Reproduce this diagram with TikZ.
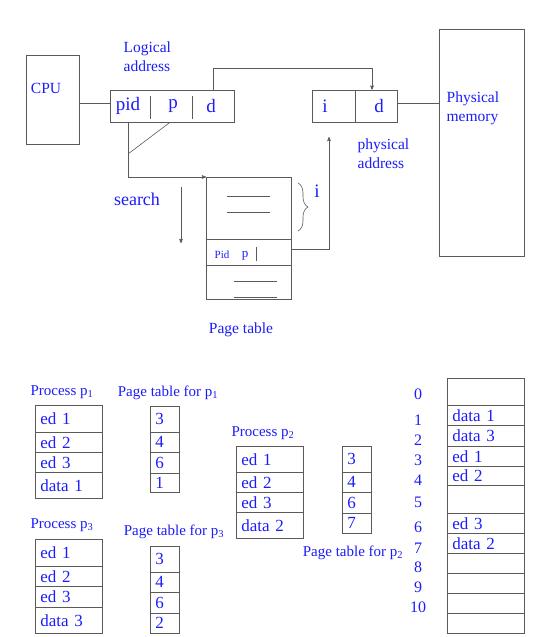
\documentclass[tikz,border=0pt]{standalone}
\usepackage{fontspec}
\setmainfont{Liberation Serif}
\usetikzlibrary{arrows,decorations.pathreplacing}
\definecolor{inkblue}{RGB}{28,28,250}
\definecolor{boxgray}{RGB}{90,90,90}
\newcommand{\fsize}[2]{\fontsize{#1}{#2}\selectfont}

\begin{document}
\begin{tikzpicture}[x=1pt,y=-1pt,>=stealth',semithick]
  \tikzstyle{every node}=[text=inkblue]
  \tikzstyle{box}=[draw=boxgray,rectangle,inner sep=0pt]
  \tikzstyle{cell}=[draw=boxgray,rectangle,anchor=north west,inner xsep=5pt,
                    inner ysep=0pt,align=left,font=\fsize{17}{19}]
  \tikzstyle{line}=[draw=boxgray]
  \tikzstyle{txt}=[font=\fsize{15.5}{19},align=left]
  \tikzstyle{title}=[font=\fsize{15}{17}]
  \tikzstyle{field}=[font=\fsize{19}{22}]

  \useasboundingbox (0,0) rectangle (536,637);

  % address translation
  \node[box,minimum width=53,minimum height=89] (cpu) at (52.5,99.5) {};
  \node[txt] (cpulabel) at (46,88) {CPU};
  \node[txt,anchor=west] (lalabel) at (120,57) {Logical\\address};
  \node[box,minimum width=124,minimum height=32] (la) at (172,106) {};
  \node[field] (pid) at (128,106) {pid};
  \node[field] (pp) at (173,106) {p};
  \node[field] (dd) at (211,106) {d};
  \draw[line] (150,96) -- (150,119) (192,96) -- (192,119);

  \node[box,minimum width=85,minimum height=32] (pa) at (354.5,106) {};
  \node[field] (pi) at (325,106) {i};
  \node[field] (pd) at (379,106) {d};
  \draw[line] (355,90) -- (355,122);
  \node[txt,anchor=west] (palabel) at (354,153.5) {physical\\address};

  \node[box,minimum width=85,minimum height=227] (pm) at (481.5,142.5) {};
  \node[txt,anchor=west] (pmlabel) at (443,108.5) {Physical\\memory};

  \draw[line] ([yshift=3pt]la.west) -- ([yshift=3pt]la.west -| cpu.east);
  \draw[line] ([yshift=3pt]pa.east) -- ([yshift=3pt]pa.east -| pm.west);
  \draw[line,->] ([xshift=2pt]dd.center |- la.north) -- ++(0,-21) -| ([xshift=17.5pt]pa.north);

  % page table
  \node[box,minimum width=85,minimum height=62,anchor=north west] (ptop) at (206,177) {};
  \node[box,minimum width=85,minimum height=26,anchor=north west] (prow) at (206,239) {};
  \node[box,minimum width=85,minimum height=34,anchor=north west] (pbot) at (206,265) {};
  \draw[line] (227,196) -- (270,196) (227,212) -- (270,212);
  \draw[line] (234,281) -- (277,281) (234,297) -- (277,297);
  \node[font=\fsize{11}{13}] (pidcell) at (222,255) {Pid};
  \node[font=\fsize{13}{15}] (pcell) at (245,256) {p};
  \draw[line] (256,247) -- (256,261);
  \draw[line,decorate,decoration={brace,amplitude=10pt}] (298,183) -- (298,231);
  \node[field] (ilabel) at (317,191) {i};
  \node[txt] (ptlabel) at (241,330) {Page table};

  \coordinate (fork) at (128,154);
  \draw[line] ([xshift=-3pt]pp.center |- la.south) -- (fork);
  \draw[line,->] (pid |- la.south) |- (ptop.north west);
  \node[font=\fsize{18}{21}] (searchlabel) at (137,199) {search};
  \coordinate (s1) at (181,187);
  \coordinate (s2) at (181,243);
  \draw[line,->] (s1) -- (s2);
  \coordinate (pain) at (329,137);
  \draw[line,->] ([yshift=3pt]prow.east) -| (pain);

  % processes and their page tables
  \node[title] (p1title) at (62,392) {Process p\textsubscript{1}};
  \node[title] (pt1title) at (168,393) {Page table for p\textsubscript{1}};
  \node[title] (p2title) at (263,433) {Process p\textsubscript{2}};
  \node[title] (pt2title) at (353,553) {Page table for p\textsubscript{2}};
  \node[title] (p3title) at (62,525) {Process p\textsubscript{3}};
  \node[title] (pt3title) at (174,532) {Page table for p\textsubscript{3}};

  \foreach \t/\h/\s [count=\k] in {405/27/ed 1,432/20/ed 2,452/20/ed 3,472/26/data 1}
    \node[cell,text width=57,minimum height=\h] (pone\k) at (35,\t) {\s};
  \foreach \t/\h/\s [count=\k] in {406/26/3,432/20/4,452/21/6,473/19/1}
    \node[cell,text width=19,minimum height=\h] (ptone\k) at (150,\t) {\s};

  \foreach \t/\h/\s [count=\k] in {446/26/ed 1,472/20/ed 2,492/20/ed 3,512/26/data 2}
    \node[cell,text width=57,minimum height=\h] (ptwo\k) at (236,\t) {\s};
  \foreach \t/\h/\s [count=\k] in {446/26/3,472/20/4,492/21/6,513/20/7}
    \node[cell,text width=19,minimum height=\h] (pttwo\k) at (342,\t) {\s};

  \foreach \t/\h/\s [count=\k] in {539/27/ed 1,566/20/ed 2,586/21/ed 3,607/26/data 3}
    \node[cell,text width=57,minimum height=\h] (pthree\k) at (35,\t) {\s};
  \foreach \t/\h/\s [count=\k] in {546/26/3,572/20/4,592/21/6,613/20/2}
    \node[cell,text width=19,minimum height=\h] (ptthree\k) at (150,\t) {\s};

  % physical memory frames
  \foreach \t/\h/\s [count=\k from 0] in {378/27/,405/20/data 1,425/21/data 3,446/20/ed 1,
      466/19/ed 2,485/28/,513/20/ed 3,533/20/data 2,553/20/,573/20/,593/20/,613/20/}
    \node[cell,text width=67,minimum height=\h] (mem\k) at (447,\t) {\s};
  \foreach \y/\n in {394/0,420/1,440/2,460/3,480/4,502/5,527/6,548/7,567/8,587/9,607/10}
    \node[font=\fsize{16}{19}] (frame\n) at (418,\y) {\n};
\end{tikzpicture}
\end{document}
